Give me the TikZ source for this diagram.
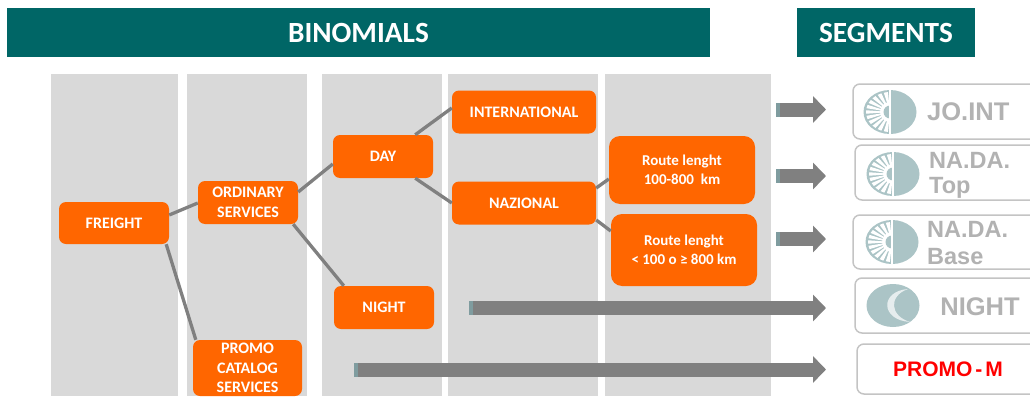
\documentclass[tikz,border=0pt]{standalone}
\usepackage{fontspec}
\setmainfont{Carlito}
\newfontfamily\arialfont{Liberation Sans}
\usetikzlibrary{arrows.meta,calc}
\definecolor{hdrc}{HTML}{006666}
\definecolor{colc}{HTML}{D9D9D9}
\definecolor{orgc}{HTML}{FF6600}
\definecolor{lnkc}{HTML}{808080}
\definecolor{segb}{HTML}{C4C4C4}
\definecolor{segt}{HTML}{B2B2B2}
\definecolor{logoc}{HTML}{ABC4C6}
\definecolor{tailc}{HTML}{7F9C9F}
\tikzset{
  x=1pt,y=-1pt,
  colbox/.style={fill=colc,draw=none},
  hdrbox/.style={fill=hdrc,draw=none,text=white,inner sep=0pt,font=\fontsize{29.3}{32}\selectfont\bfseries},
  obox/.style={fill=orgc,draw=none,rounded corners=7pt,text=white,inner sep=0pt,align=center,font=\fontsize{16}{19.5}\selectfont\bfseries},
  rbox/.style={obox,rounded corners=11pt,font=\fontsize{15}{19}\selectfont\bfseries},
  link/.style={draw=lnkc,line width=3.3pt},
  blockarrow/.style={draw=lnkc,line width=14pt,-{Triangle[length=13pt,width=26pt]}},
  segbox/.style={draw=segb,line width=1.5pt,rounded corners=7pt,fill=white},
  segtext/.style={text=segt,inner sep=0pt,align=left,font=\arialfont\bfseries\fontsize{23.5}{30}\selectfont},
  segtextb/.style={segtext,font=\arialfont\bfseries\fontsize{25.5}{30}\selectfont},
}
\newcommand{\sunlogo}[2]{%
  \begin{scope}[shift={(#1,#2)}]
    \fill[logoc] (0,0) ellipse [x radius=26.5,y radius=22];
    \foreach \a in {100,116,132,148,164,180,196,212,228,244,260}
      \fill[white] (0,0) -- ({24*cos(\a-5)},{-20*sin(\a-5)}) -- ({24*cos(\a+5)},{-20*sin(\a+5)}) -- cycle;
    \fill[white] (0,10) arc [start angle=90,end angle=270,x radius=10,y radius=10] -- cycle;
    \fill[logoc] (0,6.5) arc [start angle=90,end angle=270,x radius=6.5,y radius=6.5] -- cycle;
    \fill[white] (-1.2,-22) rectangle (1.2,22);
  \end{scope}}
\begin{document}
\begin{tikzpicture}
\useasboundingbox (0,0) rectangle (1030,396);
\fill[white] (0,0) rectangle (1030,396);
% headers
\node[hdrbox,minimum width=703,minimum height=49] (binom) at (358.5,32.5) {BINOMIALS};
\node[hdrbox,minimum width=178,minimum height=49] (segs) at (886,32.5) {SEGMENTS};
% columns
\fill[colbox] (51,74) rectangle (178,396);
\fill[colbox] (187,74) rectangle (307,396);
\fill[colbox] (322,74) rectangle (442,396);
\fill[colbox] (448,74) rectangle (598,396);
\fill[colbox] (605,74) rectangle (771,396);
% nodes
\node[obox,minimum width=110,minimum height=42] (fr) at (114,223) {FREIGHT};
\node[obox,minimum width=100,minimum height=43] (or) at (248,202.5) {ORDINARY\\SERVICES};
\node[obox,minimum width=100,minimum height=43] (day) at (383,156.5) {DAY};
\node[obox,minimum width=100,minimum height=43] (ni) at (384,307.5) {NIGHT};
\node[obox,minimum width=109,minimum height=56] (pr) at (247.5,368) {PROMO\\CATALOG\\SERVICES};
\node[obox,minimum width=144,minimum height=43] (int) at (524,112) {INTERNATIONAL};
\node[obox,minimum width=144,minimum height=43] (naz) at (524,203) {NAZIONAL};
\node[rbox,minimum width=146,minimum height=68] (r1) at (682,170) {Route lenght\\100-800\ \ km};
\node[rbox,minimum width=146,minimum height=72] (r2) at (684,250) {Route lenght\\< 100 o ≥ 800 km};
% connectors
\draw[link] ($(fr.east)+(0,-8)$) -- ($(or.west)+(0,0.5)$);
\draw[link] ($(fr.south east)+(-3,0)$) -- ($(pr.north west)+(3,0)$);
\draw[link] ($(or.east)+(0,-10.5)$) -- ($(day.west)+(0,7.5)$);
\draw[link] ($(or.south east)+(-5,0)$) -- ($(ni.north west)+(10,0)$);
\draw[link] ($(day.north east)+(-18,0)$) -- ($(int.west)+(0,-4)$);
\draw[link] ($(day.south east)+(-18,0)$) -- (naz.west);
\draw[link] ($(naz.east)+(0,-15)$) -- ($(r1.west)+(0,9)$);
\draw[link] ($(naz.east)+(0,17)$) -- ($(r2.west)+(0,-19)$);
% segment boxes
\draw[segbox] (853,84) rectangle (1045,139);
\draw[segbox] (855,145) rectangle (1045,200);
\draw[segbox] (853,215) rectangle (1045,269);
\draw[segbox] (855,278) rectangle (1045,333);
\draw[segbox] (857,344) rectangle (1045,394);
% logos
\sunlogo{890}{112}
\sunlogo{893}{174}
\sunlogo{892}{242}
\fill[logoc] (893,305.5) ellipse [x radius=26.5,y radius=21.5];
\fill[white!70!logoc] (908,289) .. controls (880,291) and (880,320) .. (910,322) .. controls (890,316) and (888,296) .. (908,289) -- cycle;
% segment labels
\node[segtextb,anchor=west] (t1) at (927,112) {JO.INT};
\node[segtext,anchor=west] (t2) at (929,160) {NA.DA.};
\node[segtext,anchor=west] (t2b) at (929,188) {Top};
\node[segtext,anchor=west] (t3) at (927,229) {NA.DA.};
\node[segtext,anchor=west] (t3b) at (927,257) {Base};
\node[segtextb,anchor=center] (t4) at (980,307) {NIGHT};
\node[text=red,inner sep=0pt,font=\arialfont\bfseries\fontsize{21}{24}\selectfont] (t5) at (948,369) {PROMO\kern3pt-\kern3pt M};
% arrows
\foreach \n/\xa/\ya in {a/776/109.5,b/776/176,c/776/239,d/469/308,e/354/369.5}{
  \coordinate (\n s) at (\xa,\ya);
  \coordinate (\n e) at (826,\ya);
  \draw[blockarrow] (\n s) -- (\n e);
  \fill[tailc] ($(\n s)+(0,-7)$) rectangle ($(\n s)+(4,7)$);
}
\end{tikzpicture}
\end{document}
